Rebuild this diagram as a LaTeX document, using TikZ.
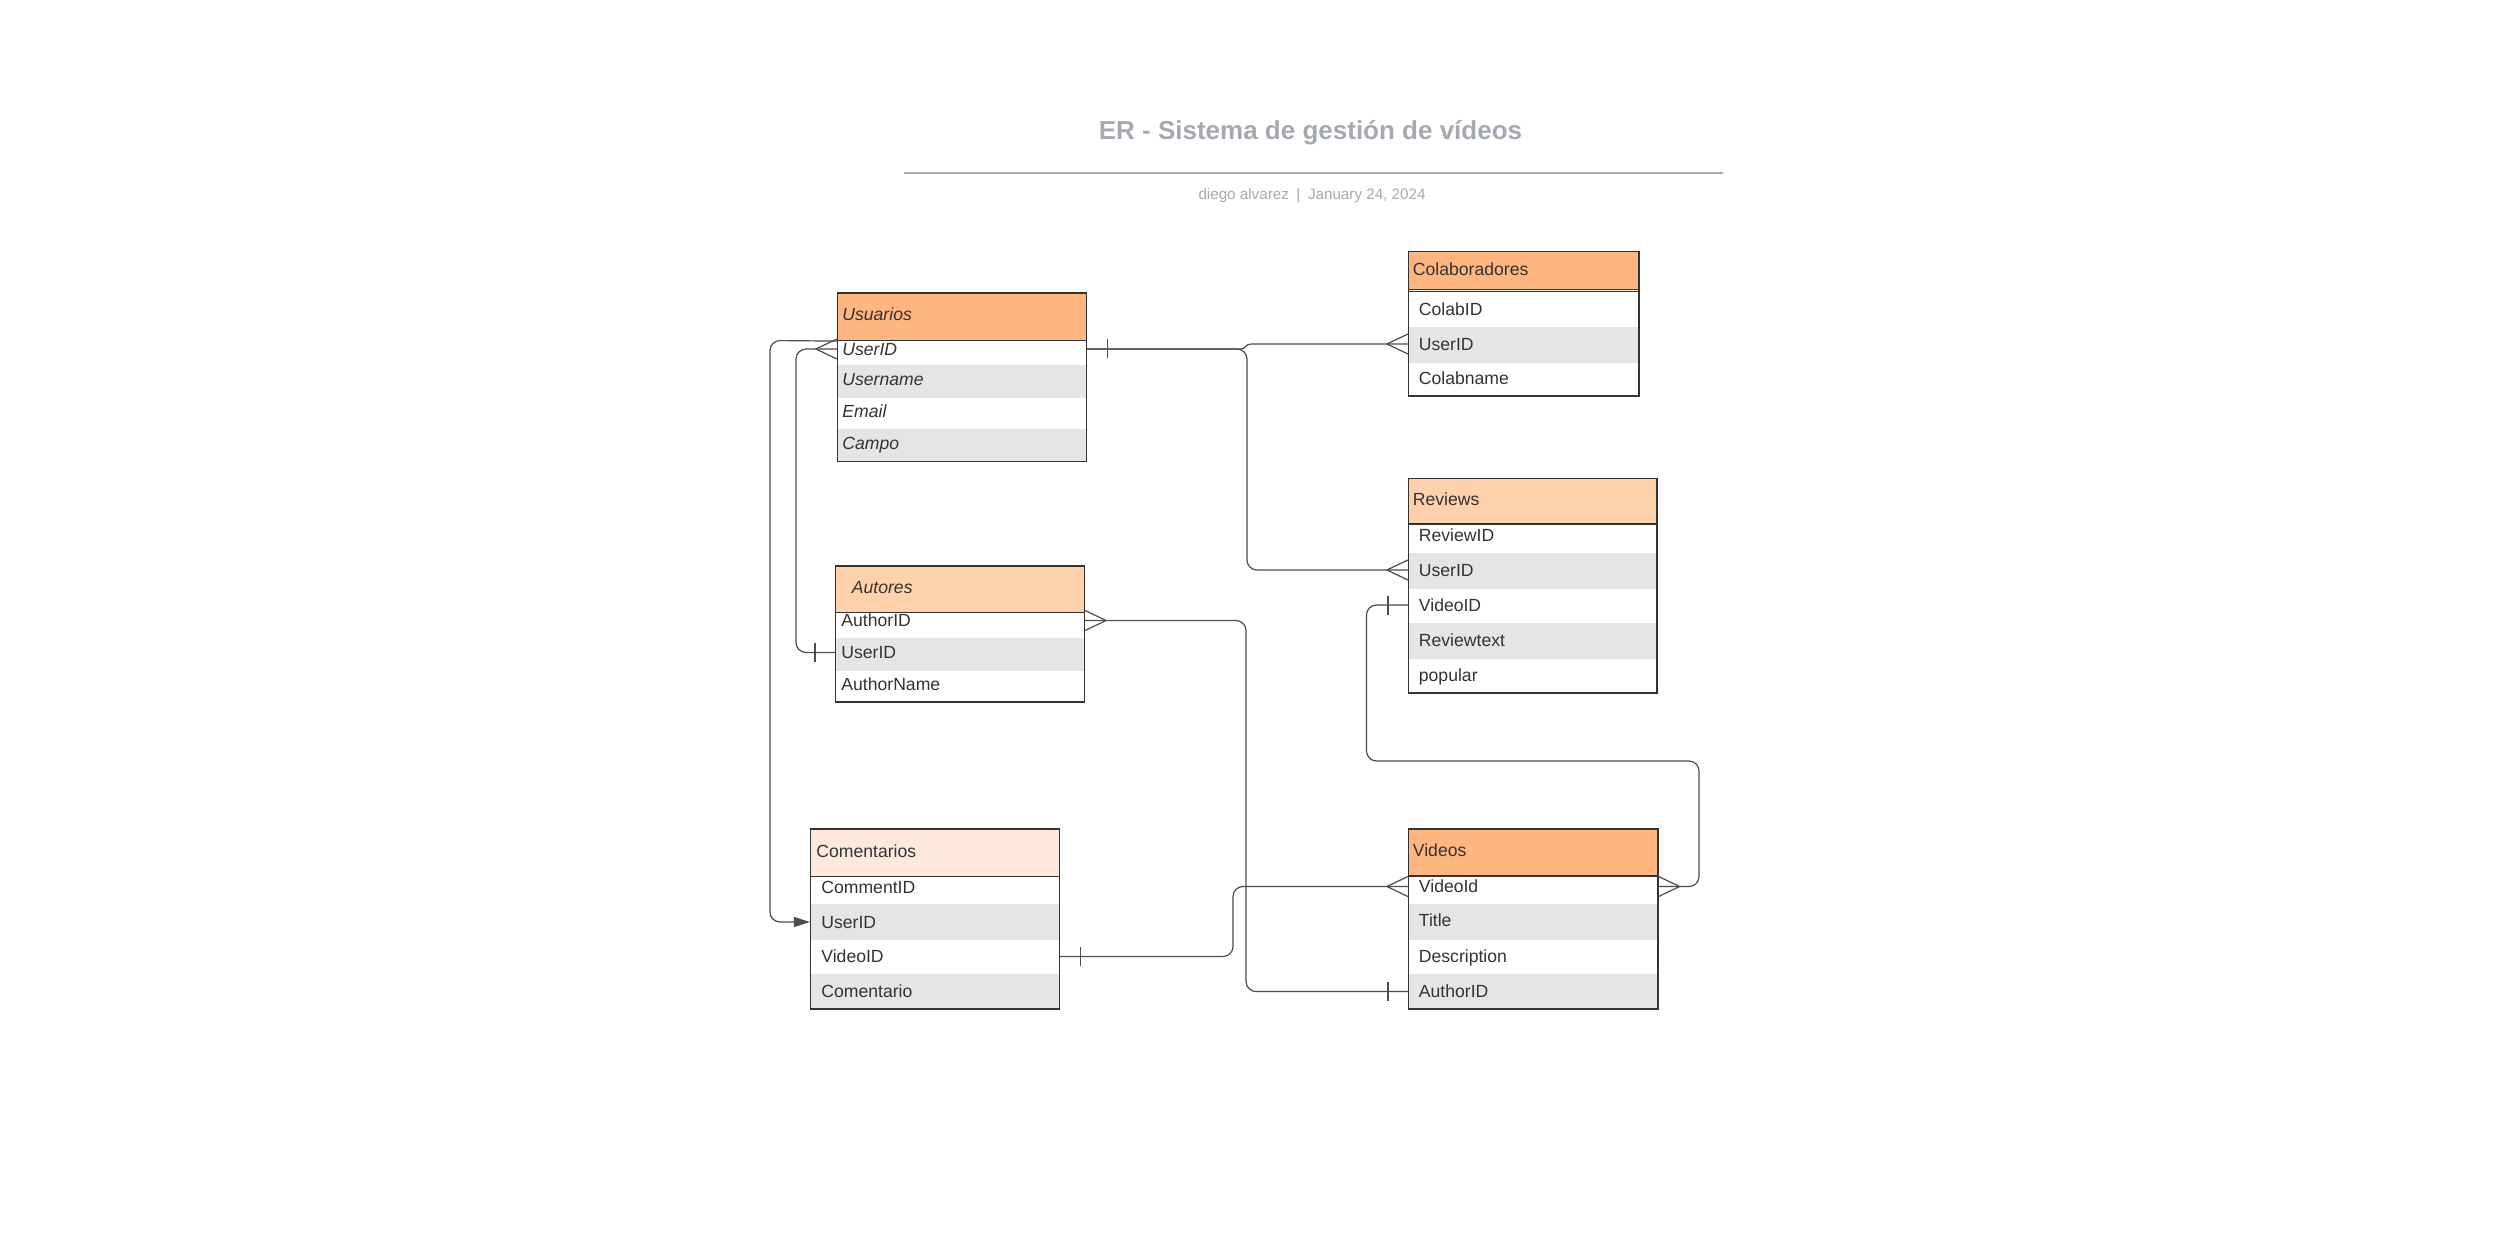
\documentclass[tikz,border=0pt]{standalone}
\usepackage{fontspec}
\setmainfont{Liberation Sans}
\usetikzlibrary{fit,arrows.meta}
\definecolor{hdrA}{HTML}{FFB57F}
\definecolor{hdrB}{HTML}{FFD1AA}
\definecolor{hdrC}{HTML}{FFE9DC}
\definecolor{rowgray}{HTML}{E5E5E5}
\definecolor{bordc}{HTML}{333333}
\definecolor{txtc}{HTML}{333333}
\definecolor{titlec}{HTML}{A5A9B1}
\definecolor{linec}{HTML}{4D4D4D}
\tikzset{
  box/.style={rectangle, inner sep=0pt, draw=bordc, line width=0.6pt},
  hdrbox/.style={rectangle, inner sep=0pt, draw=bordc, line width=0.6pt, fill=#1},
  grayrow/.style={rectangle, inner sep=0pt, fill=rowgray},
  fld/.style={anchor=west, inner sep=0pt, text=txtc, font=\fontsize{8.8pt}{10pt}\selectfont, text height=6.3pt, text depth=0pt},
  fldi/.style={fld, font=\fontsize{8.8pt}{10pt}\selectfont\itshape},
  conn/.style={draw=linec, line width=0.6pt, rounded corners=5pt},
  pics/crowL/.style={code={\draw[linec, line width=0.6pt] (0,-10) -- (-21,0) -- (0,10);}},
  pics/crowR/.style={code={\draw[linec, line width=0.6pt] (0,-10) -- (21,0) -- (0,10);}},
  pics/barL/.style={code={\draw[linec, line width=0.6pt] (-20,-9.5) -- (-20,9.5);}},
  pics/barR/.style={code={\draw[linec, line width=0.6pt] (20,-9.5) -- (20,9.5);}}
}
\begin{document}
\begin{tikzpicture}[x=0.5pt,y=-0.5pt]
\fill[white] (0,0) rectangle (2494,1245);
\useasboundingbox (0,0) rectangle (2494,1245);

% title block
\node[font=\bfseries\fontsize{13pt}{15pt}\selectfont, text=titlec, inner sep=0pt, anchor=base] (title) at (1310.5,139.5) {ER - Sistema de gestión de vídeos};
\draw[titlec, line width=1pt] (903.5,173.5) -- (1722.5,173.5);
\node[font=\fontsize{7.6pt}{9pt}\selectfont, text=titlec, inner sep=0pt, anchor=base] (sub) at (1312,200) {diego alvarez\hspace{0.5em}|\hspace{0.5em}January 24, 2024};

% Usuarios
\node[hdrbox=hdrA, fit={(837.5,293) (1086.5,340.5)}] (usuh) {};
\node[grayrow, fit={(837.5,365) (1086.5,398)}] (usug1) {};
\node[grayrow, fit={(837.5,429) (1086.5,461.5)}] (usug2) {};
\node[box, fit={(837.5,293) (1086.5,461.5)}] (usu) {};
\node[fldi] (u0) at (842,314) {Usuarios};
\node[fldi] (u1) at (842,349) {UserID};
\node[fldi] (u2) at (842,379) {Username};
\node[fldi] (u3) at (842,411) {Email};
\node[fldi] (u4) at (842,443) {Campo};

% Colaboradores
\node[hdrbox=hdrA, fit={(1408.5,251.5) (1639,289.5)}] (colh) {};
\node[grayrow, fit={(1408.5,327) (1639,363)}] (colg1) {};
\node[box, fit={(1408.5,251.5) (1639,396)}] (col) {};
\draw[bordc, line width=0.6pt] (1408.5,291.5) -- (1639,291.5);
\node[fld] (c0) at (1412.5,269.5) {Colaboradores};
\node[fld] (c1) at (1418.5,309) {ColabID};
\node[fld] (c2) at (1418.5,344) {UserID};
\node[fld] (c3) at (1418.5,378.5) {Colabname};

% Reviews
\node[hdrbox=hdrB, fit={(1408.5,478.5) (1657,524)}] (revh) {};
\node[grayrow, fit={(1408.5,553) (1657,589)}] (revg1) {};
\node[grayrow, fit={(1408.5,623) (1657,659)}] (revg2) {};
\node[box, fit={(1408.5,478.5) (1657,693)}] (rev) {};
\node[fld] (r0) at (1412.5,499.5) {Reviews};
\node[fld] (r1) at (1418.5,535) {ReviewID};
\node[fld] (r2) at (1418.5,570) {UserID};
\node[fld] (r3) at (1418.5,605) {VideoID};
\node[fld] (r4) at (1418.5,640) {Reviewtext};
\node[fld] (r5) at (1418.5,675) {popular};

% Autores
\node[hdrbox=hdrB, fit={(835.5,566) (1084.5,612.5)}] (auth) {};
\node[grayrow, fit={(835.5,638) (1084.5,671)}] (autg1) {};
\node[box, fit={(835.5,566) (1084.5,702)}] (aut) {};
\node[fldi] (a0) at (851.5,587.5) {Autores};
\node[fld] (a1) at (841,620.5) {AuthorID};
\node[fld] (a2) at (841,652.5) {UserID};
\node[fld] (a3) at (841,684) {AuthorName};

% Comentarios
\node[hdrbox=hdrC, fit={(810.5,829) (1059.5,876.5)}] (comh) {};
\node[grayrow, fit={(810.5,904) (1059.5,940)}] (comg1) {};
\node[grayrow, fit={(810.5,974) (1059.5,1009)}] (comg2) {};
\node[box, fit={(810.5,829) (1059.5,1009)}] (com) {};
\node[fld] (m0) at (816,851) {Comentarios};
\node[fld] (m1) at (821,887) {CommentID};
\node[fld] (m2) at (821,922) {UserID};
\node[fld] (m3) at (821,956.5) {VideoID};
\node[fld] (m4) at (821,991) {Comentario};

% Videos
\node[hdrbox=hdrA, fit={(1408.5,829) (1658,876)}] (vidh) {};
\node[grayrow, fit={(1408.5,904) (1658,940)}] (vidg1) {};
\node[grayrow, fit={(1408.5,974) (1658,1009)}] (vidg2) {};
\node[box, fit={(1408.5,829) (1658,1009)}] (vid) {};
\node[fld] (v0) at (1412.5,850.5) {Videos};
\node[fld] (v1) at (1418.5,886.5) {VideoId};
\node[fld] (v2) at (1418.5,920.5) {Title};
\node[fld] (v3) at (1418.5,956) {Description};
\node[fld] (v4) at (1418.5,991.5) {AuthorID};

% connectors
\draw[conn, sharp corners] (usu.east |- u1) -- (1241,349) .. controls (1246,349) and (1245,344) .. (1251,344) -- (col.west |- c2);
\draw[conn] (usu.east |- u1) -- (1247,349) -- (1247,570) -- (rev.west |- r2);
\draw[conn] (usu.west |- u1) -- (796,349) -- (796,652.5) -- (aut.west |- a2);
\draw[conn, -{Triangle[length=8pt,width=5pt]}] (usuh.south west) -- (770,340.5) -- (770,922) -- (com.west |- m2);
\draw[conn] (aut.east |- a1) -- (1246,620.5) -- (1246,991.5) -- (vid.west |- v4);
\draw[conn] (com.east |- m3) -- (1233,956.5) -- (1233,886.5) -- (vid.west |- v1);
\draw[conn] (rev.west |- r3) -- (1366.5,605) -- (1366.5,761) -- (1699,761) -- (1699,886.5) -- (vid.east |- v1);

% ends
\pic at (col.west |- c2) {crowL};
\pic at (rev.west |- r2) {crowL};
\pic at (vid.west |- v1) {crowL};
\pic at (vid.east |- v1) {crowR};
\pic at (aut.east |- a1) {crowR};
\pic at (usu.west |- u1) {crowL};
\pic at (usu.east |- u1) {barR};
\pic at (aut.west |- a2) {barL};
\pic at (com.east |- m3) {barR};
\pic at (vid.west |- v4) {barL};
\pic at (rev.west |- r3) {barL};
\end{tikzpicture}
\end{document}
